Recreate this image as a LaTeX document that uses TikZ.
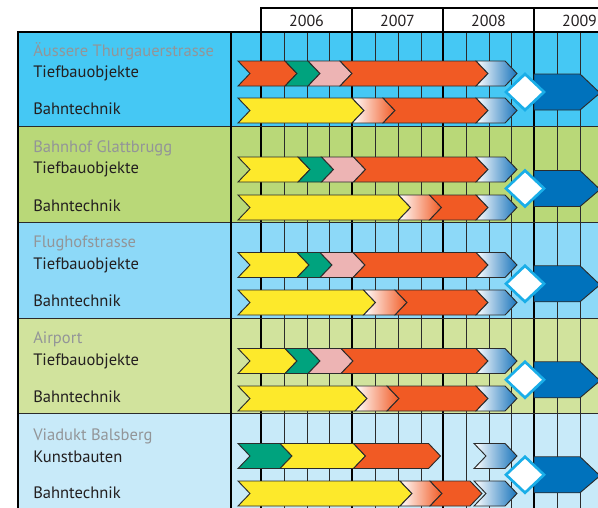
\documentclass[tikz,border=0pt]{standalone}
\usepackage{fontspec}
\setmainfont{PT Sans}
\definecolor{bandA}{HTML}{45C8F4}
\definecolor{bandB}{HTML}{B9D878}
\definecolor{bandC}{HTML}{8DD9F8}
\definecolor{bandD}{HTML}{D1E39D}
\definecolor{bandE}{HTML}{C8EAF9}
\definecolor{titelgrau}{HTML}{939598}
\definecolor{textschwarz}{HTML}{231F20}
\definecolor{rot}{HTML}{F15A24}
\definecolor{gruen}{HTML}{00A37E}
\definecolor{rosa}{HTML}{EDB4B4}
\definecolor{gelb}{HTML}{FDE92B}
\definecolor{dunkelblau}{HTML}{0072BC}
\definecolor{verlaufblau}{HTML}{1A75BC}
\definecolor{rahmen}{HTML}{2B2B2B}
\definecolor{meilenstein}{HTML}{1AAEE8}
\tikzset{
  bar/.style={draw=rahmen, line width=0.7pt, line join=miter},
  rotbar/.style={fill=rot},
  gruenbar/.style={fill=gruen},
  rosabar/.style={fill=rosa},
  gelbbar/.style={fill=gelb},
  rotverlauf/.style={left color=white, right color=rot},
  blauverlauf/.style={left color=white, right color=verlaufblau},
  ort/.style={anchor=base west, inner sep=0pt, text=titelgrau, font=\fontsize{12.4}{14}\selectfont},
  arbeit/.style={anchor=base west, inner sep=0pt, text=textschwarz, font=\fontsize{12.4}{14}\selectfont},
  jahr/.style={anchor=base, inner sep=0pt, text=textschwarz, font=\fontsize{12}{14}\selectfont},
  duenn/.style={draw=rahmen, line width=0.6pt},
  dick/.style={draw=black, line width=1.3pt}
}
% chevron: style, left x, body end x, top y
\newcommand{\chev}[4]{\path[bar,#1] (#2,#4) -- (#3,#4) -- ++(12,12.5) -- ++(-12,12.5) -- (#2,#4+25) -- ++(12,-12.5) -- cycle;}
% milestone and 2009 arrow at middle y
\newcommand{\ziel}[1]{%
  \path[bar,fill=dunkelblau] (534,#1-18) -- (580,#1-18) -- (600,#1+1) -- (580,#1+18) -- (534,#1+18) -- cycle;
  \path[draw=meilenstein, line width=2pt, fill=white] (525,#1-18) -- (544,#1) -- (525,#1+18) -- (506,#1) -- cycle;}
\begin{document}
\begin{tikzpicture}[x=0.75pt,y=-0.75pt]
\useasboundingbox (0,0) rectangle (598,507);
%baender
\fill[bandA] (18,32) rectangle (600,126.5);
\fill[bandB] (18,126.5) rectangle (600,222);
\fill[bandC] (18,222) rectangle (600,318);
\fill[bandD] (18,318) rectangle (600,413.5);
\fill[bandE] (18,413.5) rectangle (600,510);
%kopf
\fill[white] (261,8) rectangle (600,32);
\draw[dick] (261,32) -- (261,8) -- (600,8);
\draw[dick] (352,8) -- (352,32);
\draw[dick] (443,8) -- (443,32);
\draw[dick] (534,8) -- (534,32);
\node[jahr] (jahr2006) at (306.5,26) {2006};
\node[jahr] (jahr2007) at (397.5,26) {2007};
\node[jahr] (jahr2008) at (488.5,26) {2008};
\node[jahr] (jahr2009) at (579.5,26) {2009};
%raster
\foreach \x in {284,307,329,375,398,421,466,489,511,557,580}
  \draw[duenn] (\x,32) -- (\x,510);
\foreach \x in {261,352,443,534}
  \draw[dick] (\x,32) -- (\x,510);
\draw[duenn] (18,126.5) -- (600,126.5);
\draw[duenn] (18,222) -- (600,222);
\draw[duenn] (18,318) -- (600,318);
\draw[duenn] (18,413.5) -- (600,413.5);
\draw[dick] (18,510) -- (18,32) -- (600,32);
\draw[dick] (231,32) -- (231,510);
%zeile1
\node[ort] (ort1) at (33,56) {Äussere Thurgauerstrasse};
\node[arbeit] (tief1) at (33,77.5) {Tiefbauobjekte};
\node[arbeit] (bahn1) at (33,114) {Bahntechnik};
\chev{rotbar}{238}{285}{61}
\chev{gruenbar}{285}{308}{61}
\chev{rosabar}{308}{340}{61}
\chev{rotbar}{340}{476}{61}
\chev{blauverlauf}{476}{505}{61}
\chev{gelbbar}{238}{352}{98}
\chev{rotverlauf}{352}{383}{98}
\chev{rotbar}{383}{476}{98}
\chev{blauverlauf}{476}{505}{98}
\ziel{92}
%zeile2
\node[ort] (ort2) at (33,152) {Bahnhof Glattbrugg};
\node[arbeit] (tief2) at (33,173.5) {Tiefbauobjekte};
\node[arbeit] (bahn2) at (33,211) {Bahntechnik};
\chev{gelbbar}{238}{298}{157}
\chev{gruenbar}{298}{321.5}{157}
\chev{rosabar}{321.5}{353.5}{157}
\chev{rotbar}{353.5}{476}{157}
\chev{blauverlauf}{476}{505}{157}
\chev{gelbbar}{238}{398.5}{195}
\chev{rotverlauf}{398.5}{429.5}{195}
\chev{rotbar}{429.5}{476}{195}
\chev{blauverlauf}{476}{505}{195}
\ziel{188.5}
%zeile3
\node[ort] (ort3) at (33,247.5) {Flughofstrasse};
\node[arbeit] (tief3) at (33,269) {Tiefbauobjekte};
\node[arbeit] (bahn3) at (33,306) {Bahntechnik};
\chev{gelbbar}{238}{297}{252.5}
\chev{gruenbar}{297}{320}{252.5}
\chev{rosabar}{320}{353}{252.5}
\chev{rotbar}{353}{476}{252.5}
\chev{blauverlauf}{476}{505}{252.5}
\chev{gelbbar}{238}{363.5}{290}
\chev{rotverlauf}{363.5}{395}{290}
\chev{rotbar}{395}{476}{290}
\chev{blauverlauf}{476}{505}{290}
\ziel{283.75}
%zeile4
\node[ort] (ort4) at (33,343.5) {Airport};
\node[arbeit] (tief4) at (33,365) {Tiefbauobjekte};
\node[arbeit] (bahn4) at (33,402) {Bahntechnik};
\chev{gelbbar}{238}{285}{348.5}
\chev{gruenbar}{285}{308}{348.5}
\chev{rosabar}{308}{341}{348.5}
\chev{rotbar}{341}{476}{348.5}
\chev{blauverlauf}{476}{505}{348.5}
\chev{gelbbar}{238}{355}{386}
\chev{rotverlauf}{355}{387}{386}
\chev{rotbar}{387}{476}{386}
\chev{blauverlauf}{476}{505}{386}
\ziel{379.75}
%zeile5
\node[ort] (ort5) at (33,440) {Viadukt Balsberg};
\node[arbeit] (kunst5) at (33,462) {Kunstbauten};
\node[arbeit] (bahn5) at (33,498.5) {Bahntechnik};
\chev{gruenbar}{238}{280}{443.5}
\chev{gelbbar}{280}{353.5}{443.5}
\chev{rotbar}{353.5}{428.5}{443.5}
\chev{blauverlauf}{474}{505}{443.5}
\chev{gelbbar}{238}{400}{481}
\chev{rotverlauf}{400}{430}{481}
\chev{rotbar}{430}{470}{481}
\chev{blauverlauf}{474}{505}{481}
\ziel{474.75}
\end{tikzpicture}
\end{document}
